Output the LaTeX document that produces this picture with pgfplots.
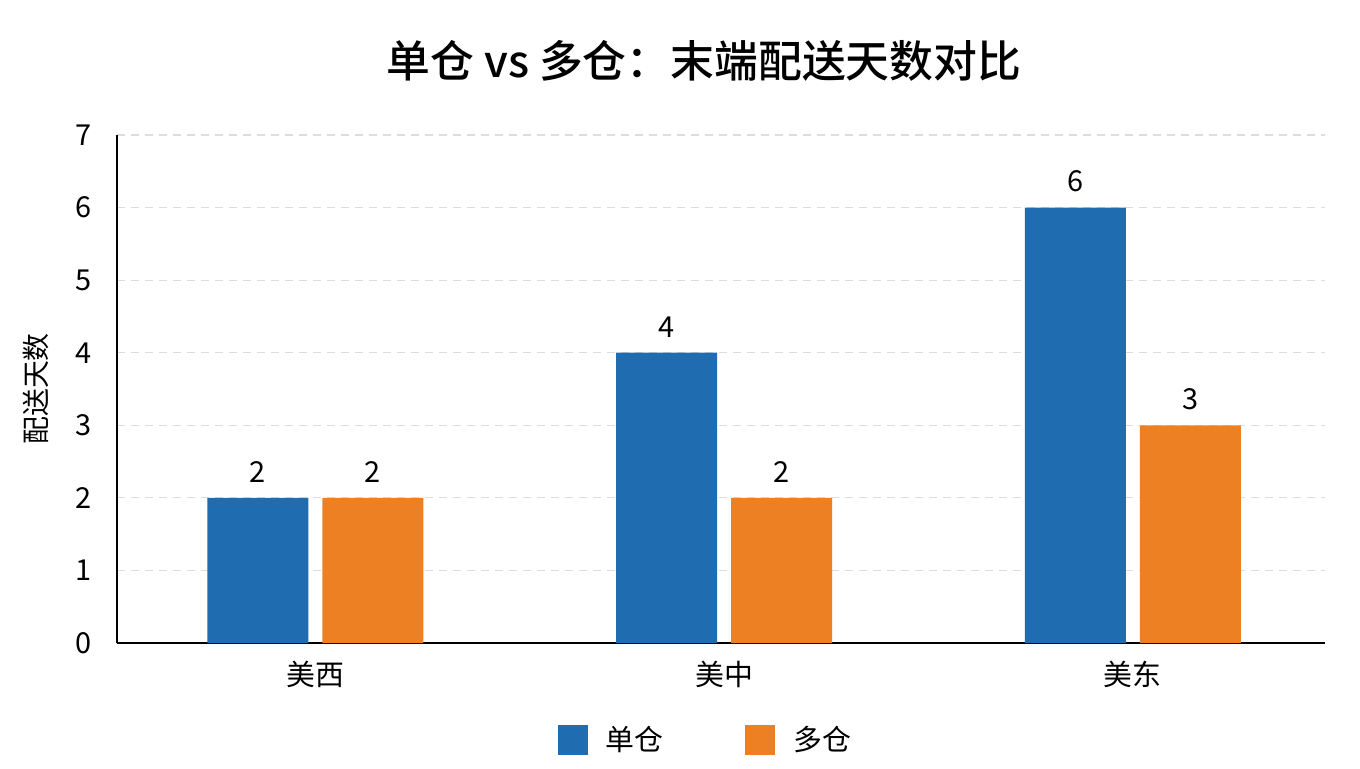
\documentclass[border=0pt]{standalone}
\usepackage{fontspec}
\setmainfont{Noto Sans CJK SC}[BoldFont={Noto Sans CJK SC Medium}]
\usepackage{pgfplots}
\pgfplotsset{compat=1.18}
\definecolor{danblue}{HTML}{1F6CB0}
\definecolor{duoorange}{HTML}{EE8024}
\definecolor{gridgray}{HTML}{DDDDDD}
\begin{document}
\begin{tikzpicture}
\begin{axis}[
    scale only axis,
    width=1208bp, height=508bp,
    ybar=14bp, bar width=101bp,
    xmin=-0.485, xmax=2.47,
    ymin=0, ymax=7,
    xtick=data,
    xticklabels={美西, 美中, 美东},
    ytick={0,1,...,7},
    axis x line*=bottom, axis y line*=left,
    axis line style={black, line width=1.5bp, -},
    major tick length=0pt,
    ymajorgrids,
    grid style={gridgray, dash pattern=on 8bp off 6bp, line width=1.2bp},
    tick label style={font=\fontsize{29}{32}\selectfont},
    /pgf/number format/assume math mode=true,
    xticklabel style={yshift=-15bp},
    yticklabel style={xshift=-22bp},
    ylabel={配送天数},
    ylabel style={font=\fontsize{28}{30}\selectfont, yshift=20bp},
    nodes near coords,
    every node near coord/.append style={font=\fontsize{29}{32}\selectfont, yshift=12bp},
    legend columns=2,
    legend style={draw=none, fill=none, at={(0.487,-0.19)}, anchor=center,
        font=\fontsize{29}{32}\selectfont,
        /tikz/every odd column/.append style={column sep=16bp},
        /tikz/every even column/.append style={column sep=80bp}},
    legend image code/.code={\fill[#1] (0bp,-15bp) rectangle (30bp,15bp);},
    title={\textbf{单仓 vs 多仓：末端配送天数对比}},
    title style={font=\fontsize{44}{48}\selectfont, yshift=44bp, xshift=-17bp},
    clip=false,
]
\addplot[fill=danblue, draw=none] coordinates {(0,2) (1,4) (2,6)};
\addplot[fill=duoorange, draw=none] coordinates {(0,2) (1,2) (2,3)};
\legend{单仓, 多仓}
\coordinate (bl) at (rel axis cs:0,0);
\coordinate (tr) at (rel axis cs:1,1);
\end{axis}
\path[use as bounding box] ([xshift=-117bp,yshift=-125bp]bl) rectangle ([xshift=35bp,yshift=135bp]tr);
\end{tikzpicture}
\end{document}
